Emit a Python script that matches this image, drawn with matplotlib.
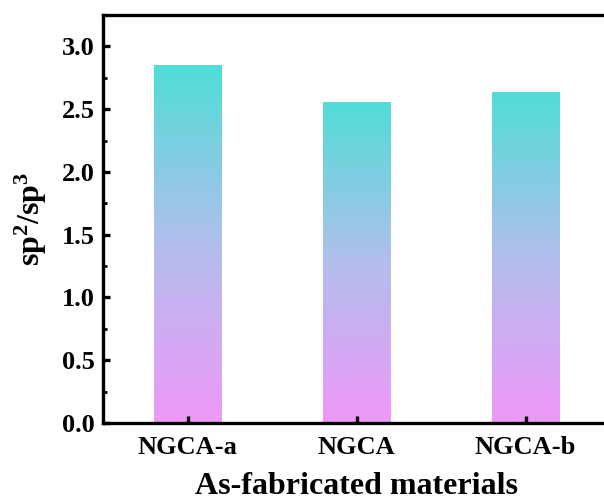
import numpy as np
import matplotlib
matplotlib.use("Agg")
import matplotlib.pyplot as plt
from matplotlib.colors import LinearSegmentedColormap

# values
materials = ["NGCA-a", "NGCA", "NGCA-b"]
ratio = [2.85, 2.56, 2.64]
y_ticks = [0.0, 0.5, 1.0, 1.5, 2.0, 2.5, 3.0]

plt.rcParams["font.family"] = ["Liberation Serif", "DejaVu Serif"]
plt.rcParams["font.weight"] = "bold"
plt.rcParams["mathtext.fontset"] = "custom"
plt.rcParams["mathtext.rm"] = "Liberation Serif:bold"
plt.rcParams["mathtext.bf"] = "Liberation Serif:bold"
plt.rcParams["mathtext.it"] = "Liberation Serif:bold"

# cyan at the top of each bar, pink-violet at the base
grad = LinearSegmentedColormap.from_list("bar_grad", ["#EE98F8", "#B2BEEC", "#50DDD7"])

fig = plt.figure(figsize=(6.04, 5.04), dpi=100)
ax = fig.add_axes([103 / 604, 81 / 504, 507 / 604, 408 / 504])

x = np.arange(1, len(materials) + 1)
bars = ax.bar(x, ratio, width=0.4, color="none", edgecolor="none", zorder=2)

# fill each bar with a vertical gradient clipped to the bar shape
ramp = np.linspace(0, 1, 256).reshape(-1, 1)
for b in bars:
    x0, y0 = b.get_x(), b.get_y()
    im = ax.imshow(ramp, cmap=grad, origin="lower", aspect="auto",
                   extent=[x0, x0 + b.get_width(), y0, y0 + b.get_height()],
                   zorder=1)
    im.set_clip_path(b)

ax.set_xlim(0.5, 3.5)
ax.set_ylim(0, 3.25)
ax.set_xticks(x)
ax.set_xticklabels(materials)
ax.set_yticks(y_ticks)
ax.set_yticklabels([f"{v:.1f}" for v in y_ticks])
ax.set_yticks(np.arange(0.25, 3.1, 0.5), minor=True)

for s in ax.spines.values():
    s.set_linewidth(2.4)

ax.tick_params(axis="both", which="major", direction="in", length=5, width=2.4,
               labelsize=19)
ax.tick_params(axis="y", which="major", pad=6)
ax.tick_params(axis="x", which="major", pad=9)
ax.tick_params(axis="y", which="minor", direction="in", length=3, width=2)

ax.set_xlabel("As-fabricated materials", fontsize=23, fontweight="bold", labelpad=10)
ax.set_ylabel(r"$\mathbf{sp^{2}/sp^{3}}$", fontsize=23, labelpad=9)

fig.savefig("out.png", dpi=100)
